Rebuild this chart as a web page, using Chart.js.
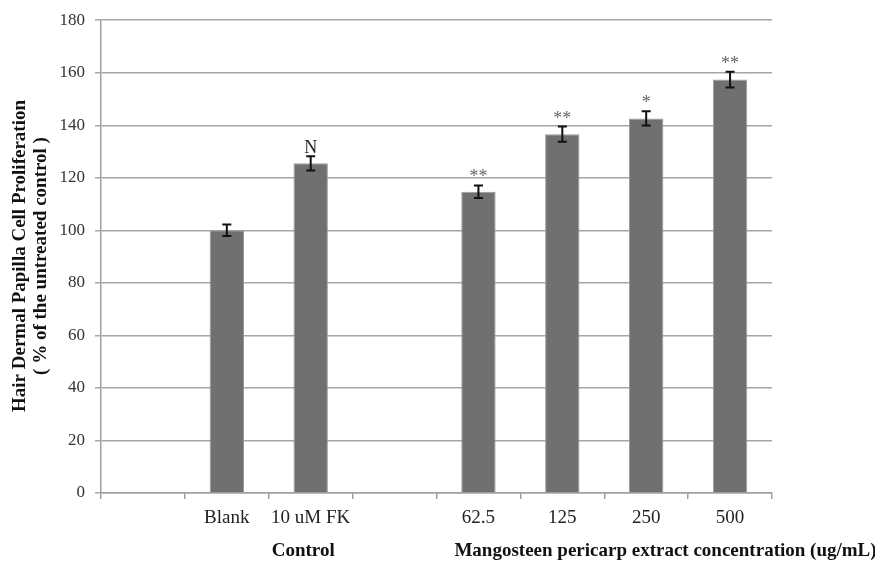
<!DOCTYPE html>
<html><head><meta charset="utf-8">
<script src="https://cdn.jsdelivr.net/npm/chart.js@4/dist/chart.umd.min.js"></script>
<style>html,body{margin:0;padding:0;background:#fff}#wrap{width:875px;height:564px}</style>
</head><body><div id="wrap"><canvas id="c" width="875" height="564"></canvas></div>
<script>
const categories = ["", "Blank", "10 uM FK", "", "62.5", "125", "250", "500"];
const values = [null, 100, 125.5, null, 114.7, 136.6, 142.6, 157.4];
const errors = [null, 2.2, 2.7, null, 2.4, 2.9, 2.7, 3.0];
const marks = [null, "", "N", null, "**", "**", "*", "**"];
const yTicks = [0, 20, 40, 60, 80, 100, 120, 140, 160, 180];
const yTitle = ["Hair Dermal Papilla Cell Proliferation", "( % of the untreated control )"];
const groupLabels = ["Control", "Mangosteen pericarp extract concentration (ug/mL)"];

const serif = '"Liberation Serif", "DejaVu Serif", serif';

const overlay = {
  id: 'overlay',
  afterDatasetsDraw(chart) {
    const ctx = chart.ctx, x = chart.scales.x, y = chart.scales.y;
    ctx.save();
    values.forEach((v, i) => {
      if (v == null) return;
      const cx = x.getPixelForValue(i);
      const top = y.getPixelForValue(v + errors[i]);
      const bot = y.getPixelForValue(v - errors[i]);
      ctx.strokeStyle = '#111'; ctx.lineWidth = 2;
      ctx.beginPath();
      ctx.moveTo(cx, top); ctx.lineTo(cx, bot);
      ctx.moveTo(cx - 4.5, top); ctx.lineTo(cx + 4.5, top);
      ctx.moveTo(cx - 4.5, bot); ctx.lineTo(cx + 4.5, bot);
      ctx.stroke();
      const m = marks[i];
      if (m) {
        ctx.textAlign = 'center'; ctx.textBaseline = 'alphabetic';
        if (m === 'N') { ctx.fillStyle = '#222'; ctx.font = '18px ' + serif; ctx.fillText(m, cx, top - 3); }
        else { ctx.fillStyle = '#666'; ctx.font = '18px ' + serif; ctx.fillText(m, cx, top - 3); }
      }
    });
    ctx.restore();
  },
  afterDraw(chart) {
    const ctx = chart.ctx, x = chart.scales.x, area = chart.chartArea;
    ctx.save();
    ctx.fillStyle = '#111';
    ctx.font = 'bold 19px ' + serif;
    ctx.textBaseline = 'middle';
    ctx.textAlign = 'center';
    const cy = 256;
    [20, 41].forEach((px, k) => {
      ctx.save(); ctx.translate(px, cy); ctx.rotate(-Math.PI / 2);
      ctx.fillText(yTitle[k], 0, 0); ctx.restore();
    });
    ctx.textAlign = 'left';
    ctx.fillText(groupLabels[0], x.getPixelForValue(2) - 39, 551);
    ctx.fillText(groupLabels[1], x.getPixelForValue(4) - 24, 551);
    ctx.restore();
  }
};

new Chart(document.getElementById('c'), {
  type: 'bar',
  data: {
    labels: categories,
    datasets: [{
      data: values,
      backgroundColor: '#707070',
      borderColor: '#9a9a9a',
      borderWidth: 1,
      categoryPercentage: 1,
      barPercentage: 0.41
    }]
  },
  options: {
    responsive: false,
    animation: false,
    devicePixelRatio: 1,
    layout: { padding: { top: 15, right: 103, left: 0, bottom: 0 } },
    plugins: { legend: { display: false }, tooltip: { enabled: false } },
    scales: {
      x: {
        offset: true,
        grid: { drawOnChartArea: false, offset: true, color: '#a0a0a0', lineWidth: 1.5, tickLength: 6, tickColor: '#a0a0a0' },
        border: { color: '#a0a0a0', width: 1.5 },
        ticks: { color: '#222', font: { family: serif, size: 19 }, padding: 8, maxRotation: 0, autoSkip: false },
        afterFit(s) { s.height = 71; }
      },
      y: {
        min: 0, max: 180,
        afterBuildTicks(s) { s.ticks = yTicks.map(v => ({ value: v })); },
        grid: { color: '#a6a6a6', lineWidth: 1.5, tickLength: 6, tickColor: '#a6a6a6' },
        border: { color: '#a0a0a0', width: 1.5 },
        ticks: { color: '#333', font: { family: serif, size: 17 }, padding: 10 },
        afterFit(s) { s.width = 101; }
      }
    }
  },
  plugins: [overlay]
});
</script>
</body></html>
